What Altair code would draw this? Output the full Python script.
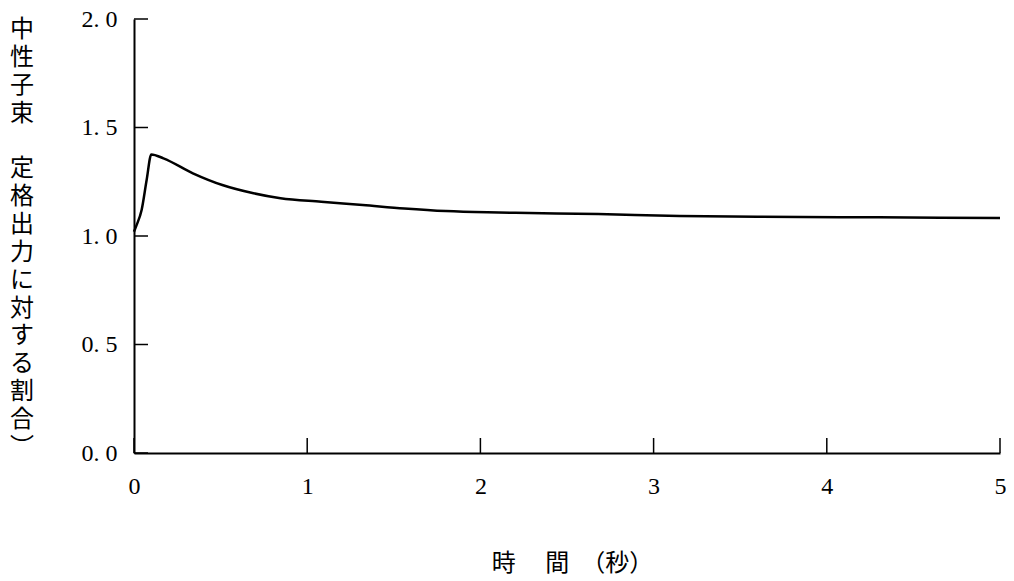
import altair as alt
import pandas as pd

# --- data ---
time_s = [0.0, 0.015, 0.044, 0.073, 0.10, 0.17, 0.34, 0.51, 0.69, 0.846, 1.081,
          1.321, 1.561, 1.801, 2.041, 2.281, 2.68, 3.15, 3.61, 4.3, 5.0]
ratio = [1.02, 1.05, 1.12, 1.258, 1.376, 1.358, 1.289, 1.235, 1.197, 1.174, 1.158,
         1.143, 1.127, 1.115, 1.109, 1.106, 1.101, 1.092, 1.089, 1.086, 1.083]
x_ticks = [0, 1, 2, 3, 4, 5]
y_ticks = [0.0, 0.5, 1.0, 1.5, 2.0]
y_title_chars = ["中", "性", "子", "束", "定", "格", "出", "力", "に", "対", "す", "る", "割", "合", "︶"]
y_title_slots = [0, 1, 2, 3, 5, 6, 7, 8, 9, 10, 11, 12, 13, 14, 15]
x_title = "時　 間　（秒）"

W, H = 866, 434
NUM_FONT = "Liberation Serif"
CJK_FONT = "Noto Sans CJK JP"

df = pd.DataFrame({"t": time_s, "r": ratio})
xs = alt.Scale(domain=[0, 5], nice=False, zero=False)
ys = alt.Scale(domain=[0, 2], nice=False, zero=False)

line = alt.Chart(df).mark_line(color="black", strokeWidth=2.5, interpolate="monotone").encode(
    x=alt.X("t:Q", scale=xs, axis=alt.Axis(
        values=x_ticks, format="d", grid=False, ticks=False, tickSize=0,
        domainColor="black", domainWidth=2,
        labelFont=NUM_FONT, labelFontSize=24, labelColor="black", labelPadding=21,
        labelFlush=False,
        title=x_title, titleFont=CJK_FONT, titleFontSize=24, titleFontWeight="normal",
        titleColor="black", titleX=438, titleY=110, titleAlign="center",
        titleBaseline="middle")),
    y=alt.Y("r:Q", scale=ys, axis=alt.Axis(
        values=y_ticks, grid=False, ticks=False, tickSize=0,
        domainColor="black", domainWidth=2,
        labelExpr="replace(format(datum.value, '.1f'), '.', '. ')",
        labelFont=NUM_FONT, labelFontSize=24, labelColor="black", labelPadding=17,
        labelFlush=False, title=None)),
)

ytick = alt.Chart(pd.DataFrame({"r": y_ticks})).mark_rule(color="black", strokeWidth=1.5).encode(
    y=alt.Y("r:Q", scale=ys), x=alt.value(0), x2=alt.value(14))

xtick = alt.Chart(pd.DataFrame({"t": x_ticks})).mark_rule(color="black", strokeWidth=1.5).encode(
    x=alt.X("t:Q", scale=xs), y=alt.value(H), y2=alt.value(H - 15))

base = alt.layer(line, ytick, xtick)

ytitle = alt.Chart(pd.DataFrame({"ch": y_title_chars, "slot": y_title_slots})).mark_text(
    font=CJK_FONT, fontSize=24, align="center", baseline="middle", color="black",
).encode(
    text="ch:N",
    x=alt.value(-112),
    y=alt.Y("slot:Q", scale=alt.Scale(domain=[0, 14], range=[11, 401], nice=False, zero=False),
            axis=None),
)

chart = alt.layer(base, ytitle).resolve_scale(y="independent").properties(
    width=W, height=H,
    autosize=alt.AutoSizeParams(type="none"),
    padding={"left": 126, "top": 11, "right": 6, "bottom": 125},
    background="white",
).configure_view(stroke=None)

chart.save("out.html", embed_options={"renderer": "svg", "actions": False})
